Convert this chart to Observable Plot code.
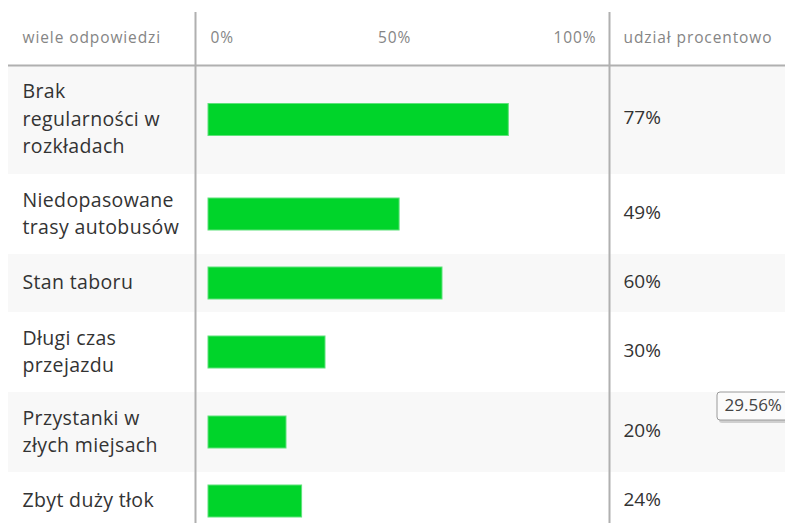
<!DOCTYPE html>
<html>
<head>
<meta charset="utf-8">
<script src="https://cdn.jsdelivr.net/npm/d3@7"></script>
<script src="https://cdn.jsdelivr.net/npm/@observablehq/plot@0.6"></script>
<style>
  html, body { margin: 0; padding: 0; background: #ffffff; }
  #chart svg { display: block; }
  .hdr text { letter-spacing: 0.9px; }
  .lbl text { letter-spacing: 0.35px; }
</style>
</head>
<body>
<div id="chart"></div>
<script>
// ---- data ----
const categories = [
  "Brak\nregularności w\nrozkładach",
  "Niedopasowane\ntrasy autobusów",
  "Stan taboru",
  "Długi czas\nprzejazdu",
  "Przystanki w\nzłych miejsach",
  "Zbyt duży tłok"
];
const values = [77, 49, 60, 30, 20, 24];
const tickValues = [0, 50, 100];
const tickLabels = ["0%", "50%", "100%"];
const headerLeft = "wiele odpowiedzi";
const headerRight = "udział procentowo";
const tooltipText = "29.56%";

// ---- layout (derived from the data) ----
const W = 785, H = 523;
const headerH = 65;
const rowH = n => ({1: 58, 2: 80, 3: 109})[n];
let cursor = headerH;
const rows = categories.map((c, i) => {
  const lines = c.split("\n").length;
  const top = cursor, bottom = cursor + rowH(lines);
  cursor = bottom;
  return {category: c, value: values[i], label: values[i] + "%", top, bottom, mid: (top + bottom) / 2, i};
});
const ticks = tickValues.map((v, i) => ({v, label: tickLabels[i]}));
const headerMid = 38;
const font = "'Open Sans', sans-serif";
const hdr = {fill: "#858585", fontSize: 15.5, className: "hdr"};

const chart = Plot.plot({
  width: W,
  height: H,
  marginLeft: 208,
  marginRight: 187,
  marginTop: 0,
  marginBottom: 0,
  x: {domain: [0, 100], axis: null},
  y: {type: "identity", axis: null},
  style: {fontFamily: font, background: "#ffffff"},
  marks: [
    // zebra bands
    Plot.rect(rows.filter(d => d.i % 2 === 0), {
      x1: 0, x2: 100, y1: "top", y2: "bottom",
      insetLeft: -200, insetRight: -190, fill: "#f8f8f8"
    }),
    // header separator
    Plot.ruleY([headerH], {x1: 0, x2: 100, insetLeft: -200, insetRight: -190, stroke: "#b0b0b0", strokeWidth: 2}),
    // column separators
    Plot.ruleX([0], {y1: 12, y2: H, dx: -13, stroke: "#b0b0b0", strokeWidth: 2}),
    Plot.ruleX([100], {y1: 12, y2: H, dx: 11, stroke: "#b0b0b0", strokeWidth: 2}),
    // header texts
    Plot.text([headerLeft], {x: 0, y: headerMid, text: d => d, dx: -186, textAnchor: "start", ...hdr}),
    Plot.text([headerRight], {x: 100, y: headerMid, text: d => d, dx: 25, textAnchor: "start", ...hdr}),
    Plot.text(ticks.filter(d => d.v === 0), {x: "v", y: headerMid, text: "label", textAnchor: "start", dx: 2, ...hdr}),
    Plot.text(ticks.filter(d => d.v === 50), {x: "v", y: headerMid, text: "label", textAnchor: "middle", dx: -9, ...hdr}),
    Plot.text(ticks.filter(d => d.v === 100), {x: "v", y: headerMid, text: "label", textAnchor: "end", dx: -2, ...hdr}),
    // bars
    Plot.rect(rows, {
      x1: 0, x2: "value",
      y1: d => d.mid - 16, y2: d => d.mid + 16,
      fill: "#00d42a", stroke: "#5fe27a", strokeWidth: 1
    }),
    // category labels
    Plot.text(rows, {x: 0, y: "mid", text: "category", dx: -186, dy: -3, textAnchor: "start", lineHeight: 1.4, fill: "#333333", fontSize: 19.5, className: "lbl"}),
    // percent labels
    Plot.text(rows, {x: 100, y: "mid", text: "label", dx: 25, dy: -2, textAnchor: "start", fill: "#333333", fontSize: 19}),
    // hover tooltip
    Plot.rect([tooltipText], {x1: 100, x2: 100, y1: rows[4].top + 3, y2: rows[4].top + 31, insetLeft: 121, insetRight: -200, fill: "#cfcfcf", rx: 3}),
    Plot.rect([tooltipText], {x1: 100, x2: 100, y1: rows[4].top, y2: rows[4].top + 28, insetLeft: 119, insetRight: -200, fill: "#fbfbfb", stroke: "#9a9a9a", strokeWidth: 1, rx: 3}),
    Plot.text([tooltipText], {x: 100, y: rows[4].top + 13, text: d => d, dx: 126, textAnchor: "start", fill: "#444444", fontSize: 17})
  ]
});
document.getElementById("chart").appendChild(chart);
</script>
</body>
</html>
